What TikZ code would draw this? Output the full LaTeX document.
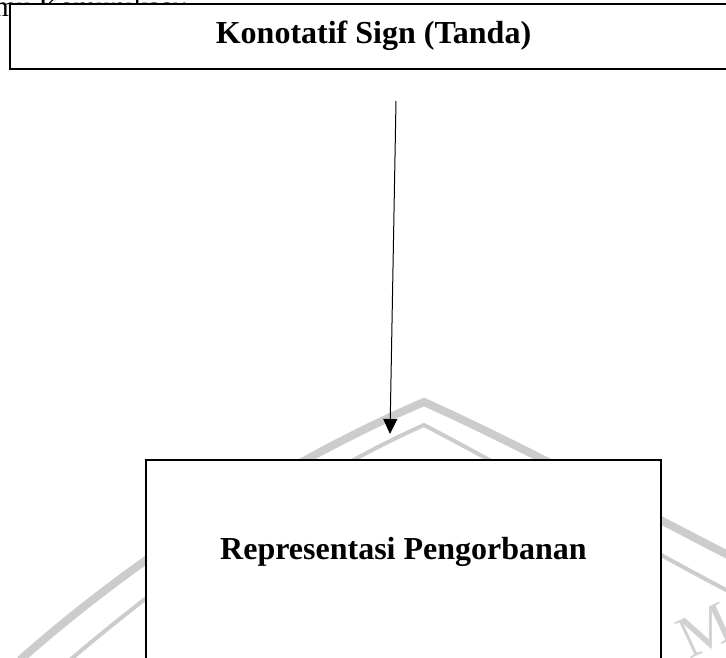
\documentclass[tikz,border=0pt]{standalone}
\usepackage{fontspec}
\setmainfont{Liberation Serif}
\usetikzlibrary{arrows.meta}
\begin{document}
\begin{tikzpicture}[x=1pt,y=-1pt,
  boxstyle/.style={draw=black,line width=2.6pt,fill=white},
  wmark/.style={draw=black!20,line cap=butt},
  conn/.style={draw=black,line width=1pt,-{Triangle[length=15pt,width=14pt]}},
  titletext/.style={font=\fontsize{32}{38}\selectfont\bfseries,inner sep=0pt}]
\useasboundingbox (0,0) rectangle (726,657);
\begin{scope}
\clip (0,0) rectangle (726,657);
% watermark
\draw[wmark,line width=8pt] (20,660) .. controls (150,545) and (300,455) .. (424,402) .. controls (520,445) and (640,510) .. (730,556);
\draw[wmark,line width=4pt] (70,660) .. controls (170,575) and (300,480) .. (424,425) .. controls (520,475) and (640,545) .. (730,592);
\node[text=black!18,font=\fontsize{60}{60}\selectfont,rotate=25] (wm) at (705,630) {M};
% cut-off header text
\node[anchor=base west,font=\fontsize{29}{34}\selectfont,inner sep=0pt] (hdr) at (-6,16) {mu Komunikasi:};
% boxes
\path[boxstyle] (10,4) rectangle (740,69);
\path[boxstyle] (146,460) rectangle (661,700);
\end{scope}
\node[titletext] (top) at (373.5,36) {Konotatif Sign (Tanda)};
\node[titletext] (bot) at (403.5,552) {Representasi Pengorbanan};
\coordinate (s) at (396,101);
\coordinate (e) at (390,434);
\draw[conn] (s) -- (e);
\end{tikzpicture}
\end{document}
